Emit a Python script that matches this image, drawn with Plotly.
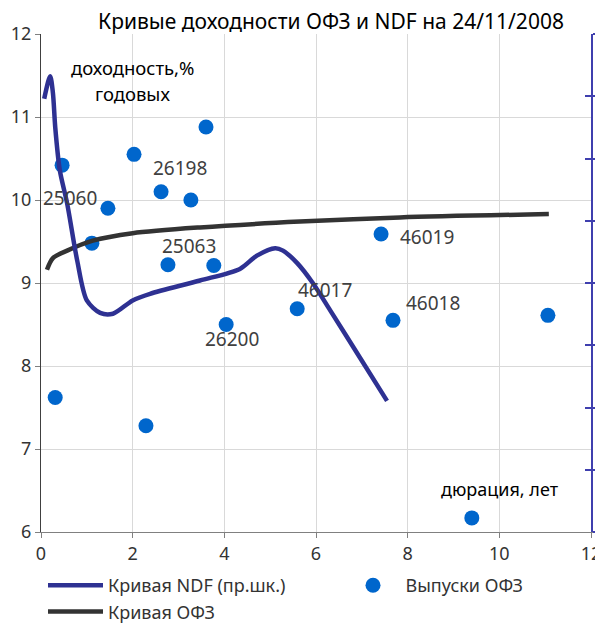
import plotly.graph_objects as go

# ---- data ----
ofz_x = [0.31, 0.46, 1.11, 1.46, 2.03, 2.29, 2.62, 2.77, 3.27, 3.60, 3.77, 4.04, 5.59, 7.42, 7.68, 11.06, 9.40]
ofz_y = [7.62, 10.42, 9.48, 9.90, 10.55, 7.28, 10.10, 9.22, 10.00, 10.88, 9.21, 8.50, 8.69, 9.59, 8.55, 8.61, 6.17]

curve_ofz_x = [0.13, 0.26, 0.57, 1.13, 2.0, 3.47, 5.65, 7.83, 11.08]
curve_ofz_y = [9.16, 9.30, 9.39, 9.51, 9.60, 9.67, 9.74, 9.79, 9.83]

# NDF curve (plotted on the right scale; values given in left-scale units)
ndf_x = [0.07, 0.20, 0.26, 0.31, 0.41, 0.57, 0.79, 1.0, 1.29, 1.57, 2.0, 2.38, 3.47, 4.34, 4.71, 5.11, 5.28, 5.59, 5.93, 6.31, 6.96, 7.55]
ndf_y = [11.22, 11.49, 11.29, 10.88, 10.36, 9.96, 9.27, 8.79, 8.64, 8.63, 8.79, 8.87, 9.03, 9.17, 9.33, 9.42, 9.39, 9.24, 9.00, 8.67, 8.10, 7.58]

label_text = ["25060", "26198", "25063", "26200", "46017", "46019", "46018"]
label_x = [0.63, 3.03, 3.23, 4.17, 6.20, 8.42, 8.55]
label_y = [10.03, 10.39, 9.44, 8.33, 8.92, 9.56, 8.76]

x_ticks = [0, 2, 4, 6, 8, 10, 12]
y_ticks = [6, 7, 8, 9, 10, 11, 12]

FONT = "Noto Sans"
OFF = 8  # page body margin
W, H = 603 - OFF, 623 - OFF
L, R, T, B = 41 - OFF, 12, 34 - OFF, 91
PW, PH = W - L - R, H - T - B


def px_x(p):
    return (p - OFF - L) / PW


def px_y(p):
    return (H - B - (p - OFF)) / PH


fig = go.Figure()
fig.add_trace(go.Scatter(
    x=ndf_x, y=ndf_y, mode="lines", name="Кривая NDF (пр.шк.)",
    line=dict(color="#2e3192", width=4.5, shape="spline", smoothing=0.8),
    yaxis="y2", legend="legend"))
fig.add_trace(go.Scatter(
    x=ofz_x, y=ofz_y, mode="markers", name="Выпуски ОФЗ",
    marker=dict(color="#0066cc", size=15), legend="legend2"))
fig.add_trace(go.Scatter(
    x=curve_ofz_x, y=curve_ofz_y, mode="lines", name="Кривая ОФЗ",
    line=dict(color="#333333", width=4.5, shape="spline", smoothing=0.8),
    legend="legend"))
fig.add_trace(go.Scatter(x=[None], y=[None], yaxis="y3", showlegend=False, hoverinfo="skip"))

for t, lx, ly in zip(label_text, label_x, label_y):
    fig.add_annotation(x=lx, y=ly, text=t, showarrow=False,
                       xanchor="center", yanchor="middle",
                       font=dict(family=FONT, size=19, color="#404040"))

for txt, cx, cy, fs in [("доходность,%", 132, 68, 18.5),
                        ("годовых", 132, 93, 18.5),
                        ("дюрация, лет", 500, 489, 18)]:
    fig.add_annotation(xref="paper", yref="paper", x=px_x(cx), y=px_y(cy),
                       xanchor="center", yanchor="middle",
                       text=txt, showarrow=False,
                       font=dict(family=FONT, size=fs, color="#000000"))

legend_common = dict(orientation="v", yanchor="top", xanchor="left",
                     font=dict(family=FONT, size=18, color="#333333"),
                     bgcolor="rgba(0,0,0,0)", itemwidth=55, tracegroupgap=0)

fig.update_layout(
    width=W, height=H,
    margin=dict(l=L, r=R, t=T, b=B, autoexpand=False),
    paper_bgcolor="white", plot_bgcolor="white",
    font=dict(family=FONT, size=18, color="#333333"),
    title=dict(text="Кривые доходности ОФЗ и NDF на 24/11/2008",
               x=px_x(331), xref="paper", xanchor="center",
               y=1 - (22 - OFF) / H, yanchor="middle",
               font=dict(family=FONT, size=21, color="#000000")),
    showlegend=True,
    legend=dict(x=px_x(43), y=px_y(567), **legend_common),
    legend2=dict(x=px_x(340.5), y=px_y(567), **legend_common),
    xaxis=dict(range=[0, 12], tickvals=x_ticks, showgrid=True, gridcolor="#d9d9d9",
               gridwidth=1, zeroline=False, showline=True, linecolor="#808080",
               ticks="outside", ticklen=5, tickcolor="#808080",
               tickfont=dict(family=FONT, size=18, color="#333333")),
    yaxis=dict(range=[6, 12], tickvals=y_ticks, showgrid=True, gridcolor="#d9d9d9",
               gridwidth=1, zeroline=False, showline=True, linecolor="#404040",
               ticks="outside", ticklen=5, tickcolor="#808080",
               tickfont=dict(family=FONT, size=18, color="#333333")),
    yaxis2=dict(range=[6, 12], dtick=0.75, tick0=6, overlaying="y", side="right",
                showgrid=False, zeroline=False, showline=True, linecolor="#3f3fae",
                linewidth=1.5, ticks="outside", ticklen=6, tickcolor="#3f3fae",
                tickwidth=1.5, showticklabels=False),
    yaxis3=dict(range=[6, 12], dtick=0.75, tick0=6, overlaying="y", side="right",
                showgrid=False, zeroline=False, showline=False,
                ticks="inside", ticklen=6, tickcolor="#3f3fae",
                tickwidth=1.5, showticklabels=False),
)

fig.write_html("out.html")
